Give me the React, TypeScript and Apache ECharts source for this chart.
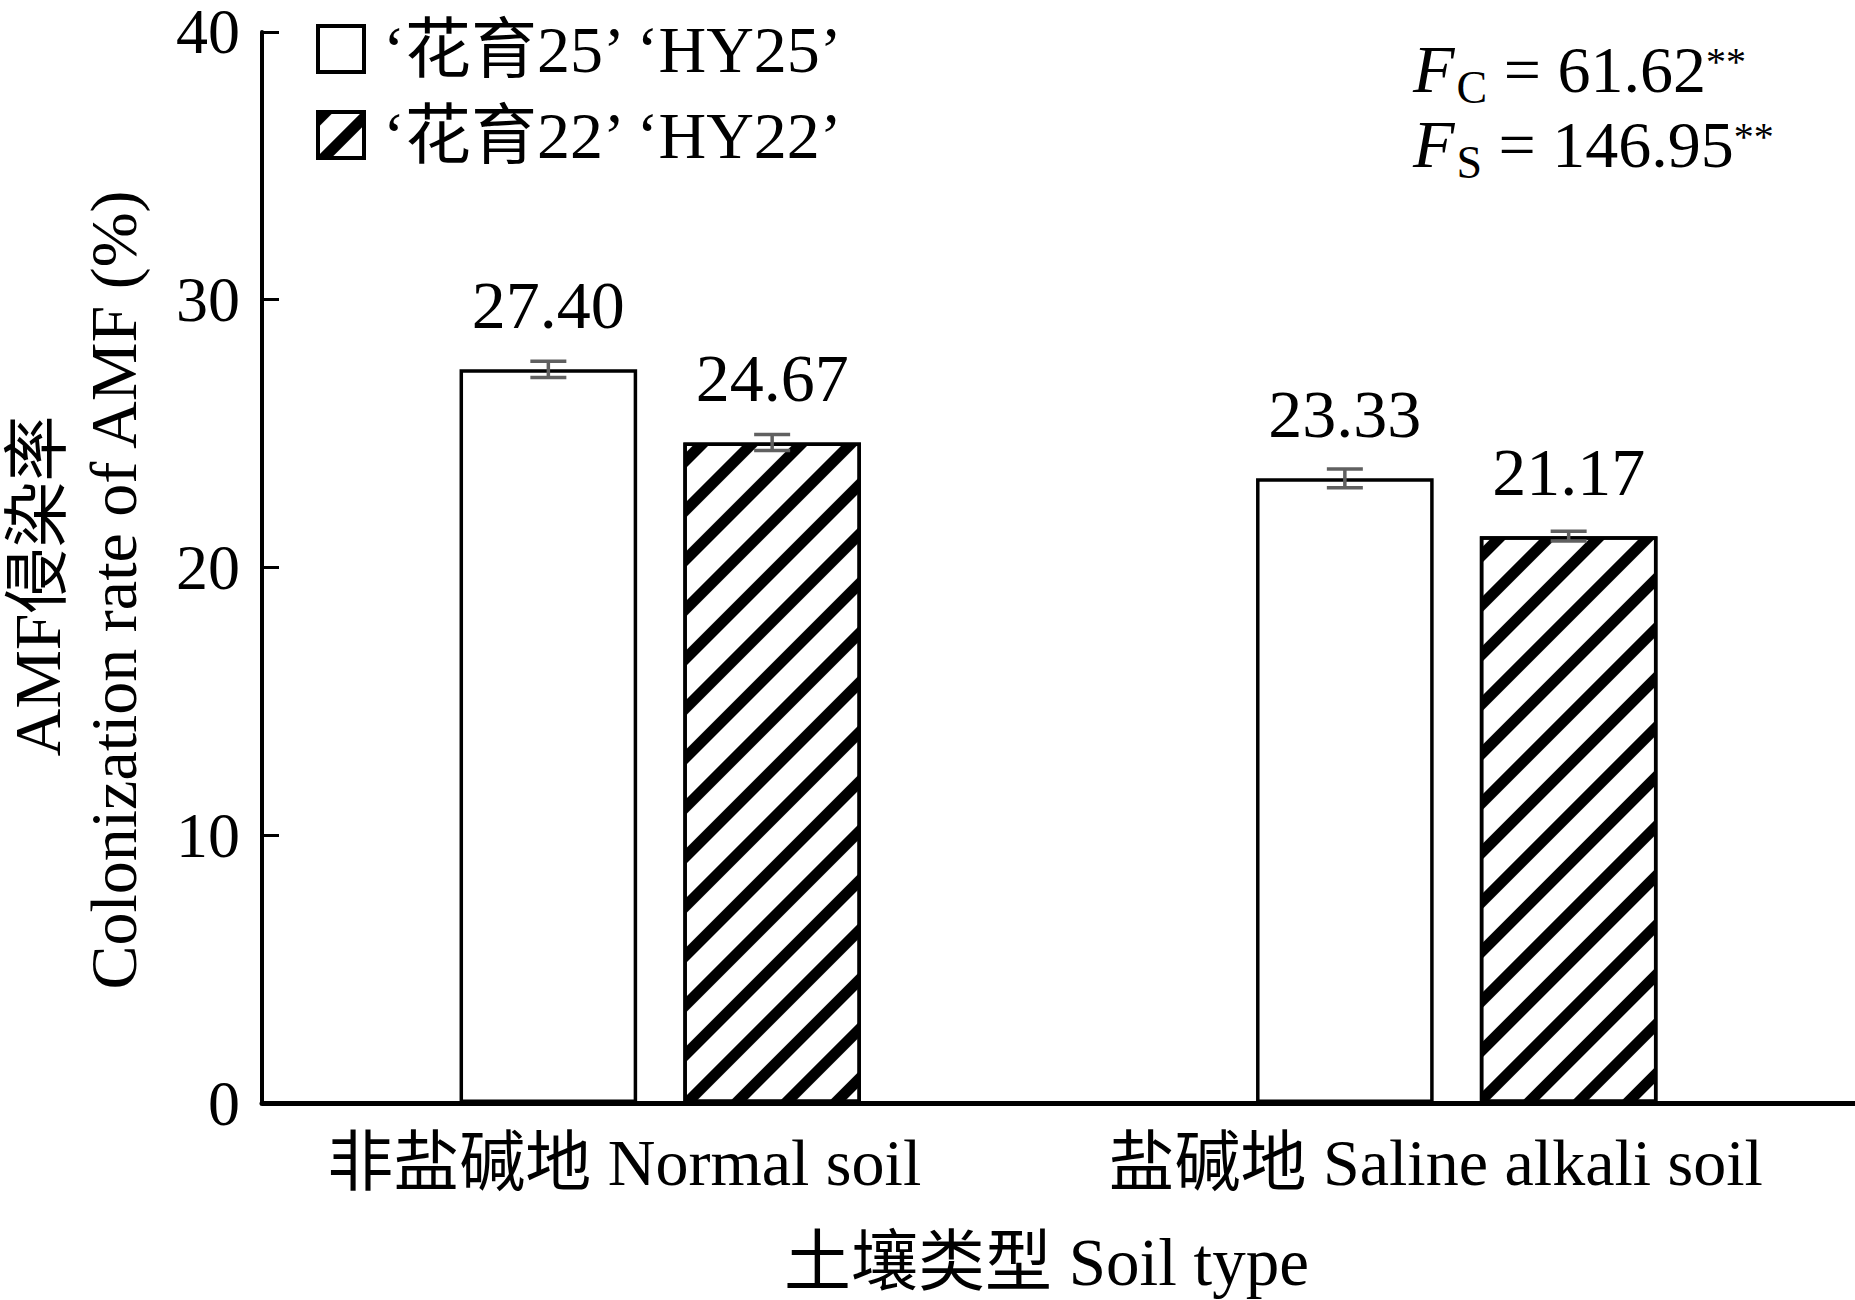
import React, { useEffect, useRef } from "react";
import * as echarts from "echarts";

const categories = ["非盐碱地 Normal soil", "盐碱地 Saline alkali soil"];
const seriesNames = ["‘花育25’ ‘HY25’", "‘花育22’ ‘HY22’"];
const hy25Values = [27.4, 23.33];
const hy22Values = [24.67, 21.17];
const hy25Errors = [0.3, 0.35];
const hy22Errors = [0.3, 0.18];
const yMin = 0;
const yMax = 40;
const yInterval = 10;
const xTitle = "土壤类型 Soil type";
const yTitleLine1 = "AMF侵染率";
const yTitleLine2 = "Colonization rate of AMF (%)";
const fStats = [
  { sub: "C", value: " = 61.62" },
  { sub: "S", value: " = 146.95" },
];

const FONT = "'Liberation Serif', 'Times New Roman', 'Noto Sans CJK SC', serif";
const BAR_W = 0.223;
const BAR_GAP = 0.26;

const hatch = {
  symbol: "rect",
  symbolSize: 1,
  dashArrayX: [1, 0],
  dashArrayY: [11, 24],
  rotation: -Math.PI / 4,
  color: "#000",
  backgroundColor: "#fff",
};

function errorSeries(values: number[], errors: number[], sign: number) {
  return {
    type: "custom",
    z: 5,
    silent: true,
    data: values.map((v, i) => [i, v, errors[i]]),
    renderItem: (params: any, api: any) => {
      const x = api.value(0);
      const y = api.value(1);
      const e = api.value(2);
      const c = api.coord([x, y]);
      const band = api.size([1, 0])[0];
      const bw = band * BAR_W;
      const gap = bw * BAR_GAP;
      const cx = c[0] + (sign * (bw + gap)) / 2;
      const top = api.coord([x, y + e])[1];
      const bot = api.coord([x, y - e])[1];
      const half = 18;
      const st = { stroke: "#606060", lineWidth: 3.5 };
      return {
        type: "group",
        children: [
          { type: "line", shape: { x1: cx, y1: top, x2: cx, y2: bot }, style: st },
          { type: "line", shape: { x1: cx - half, y1: top, x2: cx + half, y2: top }, style: st },
          { type: "line", shape: { x1: cx - half, y1: bot, x2: cx + half, y2: bot }, style: st },
        ],
      };
    },
  };
}

export default function App() {
  const ref = useRef<HTMLDivElement>(null);
  useEffect(() => {
    if (!ref.current) return;
    const chart = echarts.init(ref.current, null, { renderer: "svg" });
    const labelOffsets = [72, 42];
    const dataLabel = {
      show: true,
      position: "top",
      distance: 30,
      fontFamily: FONT,
      fontSize: 68,
      color: "#000",
      formatter: (p: any) => p.value.toFixed(2),
    };
    chart.setOption({
      animation: false,
      backgroundColor: "#fff",
      textStyle: { fontFamily: FONT, color: "#000" },
      grid: { left: 262, right: 0, top: 23, bottom: 1300 - 1105 },
      legend: {
        orient: "vertical",
        left: 311,
        top: 11,
        itemWidth: 46,
        itemHeight: 46,
        itemGap: 20,
        icon: "rect",
        data: [
          { name: seriesNames[0], itemStyle: { color: "#fff", borderColor: "#000", borderWidth: 4 } },
          { name: seriesNames[1], itemStyle: { color: "#fff", borderColor: "#000", borderWidth: 4, decal: { ...hatch, dashArrayY: [11, 20] } } },
        ],
        textStyle: { fontFamily: FONT, fontSize: 66, lineHeight: 64, color: "#000", padding: [0, 0, 0, 14] },
        selectedMode: false,
      },
      xAxis: {
        type: "category",
        data: categories,
        name: xTitle,
        nameLocation: "middle",
        nameGap: 125,
        nameTextStyle: { fontFamily: FONT, fontSize: 67, color: "#000", padding: [0, 24, 0, 0] },
        axisLine: { lineStyle: { color: "#000", width: 5 } },
        axisTick: { show: false },
        axisLabel: {
          interval: 0,
          margin: 26,
          fontFamily: FONT,
          fontSize: 66,
          color: "#000",
          formatter: (v: string, i: number) => `{l${i}|${v}}`,
          rich: {
            l0: { fontFamily: FONT, fontSize: 66, padding: [0, labelOffsets[0], 0, 0] },
            l1: { fontFamily: FONT, fontSize: 66, padding: [0, labelOffsets[1], 0, 0] },
          },
        },
      },
      yAxis: {
        type: "value",
        min: yMin,
        max: yMax,
        interval: yInterval,
        splitLine: { show: false },
        axisLine: { show: true, lineStyle: { color: "#000", width: 4 } },
        axisTick: { show: true, inside: true, length: 17, lineStyle: { color: "#000", width: 3 } },
        axisLabel: { margin: 22, fontFamily: FONT, fontSize: 64, color: "#000" },
      },
      series: [
        {
          name: seriesNames[0],
          type: "bar",
          data: hy25Values,
          barWidth: BAR_W * 100 + "%",
          barGap: BAR_GAP * 100 + "%",
          itemStyle: { color: "#fff", borderColor: "#000", borderWidth: 3.5 },
          label: dataLabel,
        },
        {
          name: seriesNames[1],
          type: "bar",
          data: hy22Values,
          barWidth: BAR_W * 100 + "%",
          barGap: BAR_GAP * 100 + "%",
          itemStyle: { color: "#fff", borderColor: "#000", borderWidth: 3.5, decal: hatch },
          label: dataLabel,
        },
        errorSeries(hy25Values, hy25Errors, -1),
        errorSeries(hy22Values, hy22Errors, 1),
      ],
      graphic: [
        {
          type: "text",
          x: 37,
          y: 586,
          rotation: Math.PI / 2,
          style: { text: yTitleLine1, font: `66px ${FONT}`, fill: "#000", align: "center", verticalAlign: "middle" },
        },
        {
          type: "text",
          x: 113,
          y: 590,
          rotation: Math.PI / 2,
          style: { text: yTitleLine2, font: `66px ${FONT}`, fill: "#000", align: "center", verticalAlign: "middle" },
        },
        ...fStats.map((f, i) => ({
          type: "text",
          x: 1413,
          y: 69 + i * 75,
          style: {
            text: `{f|F}{s|${f.sub}}{n|${f.value}}{p|**}`,
            fill: "#000",
            verticalAlign: "middle",
            rich: {
              f: { fontFamily: FONT, fontSize: 68, fontStyle: "italic", lineHeight: 66, verticalAlign: "middle" },
              s: { fontFamily: FONT, fontSize: 46, lineHeight: 30, verticalAlign: "middle", padding: [36, 0, 0, 2] },
              n: { fontFamily: FONT, fontSize: 66, lineHeight: 66, verticalAlign: "middle" },
              p: { fontFamily: FONT, fontSize: 40, lineHeight: 34, verticalAlign: "middle", padding: [0, 0, 16, 0] },
            },
          },
        })),
      ],
    });
    return () => chart.dispose();
  }, []);
  return (
    <div
      ref={ref}
      style={{ position: "absolute", left: 0, top: 0, width: 1855, height: 1300 }}
    />
  );
}
